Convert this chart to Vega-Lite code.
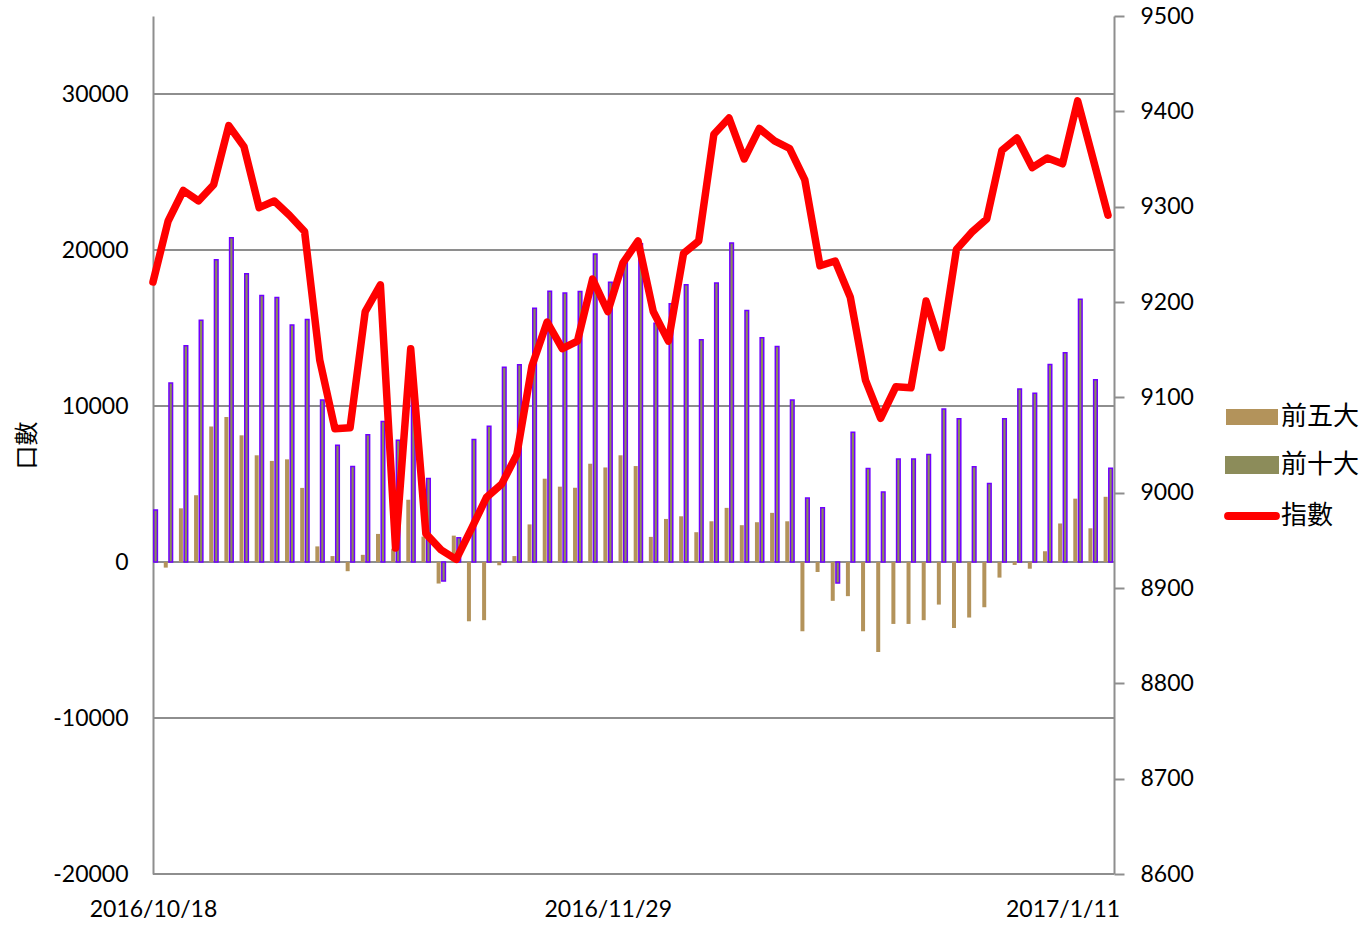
{
  "$schema": "https://vega.github.io/schema/vega-lite/v6.json",
  "width": 961,
  "height": 858,
  "autosize": {"type": "none"},
  "padding": {"left": 153, "top": 16, "right": 253, "bottom": 51},
  "background": "white",
  "config": {
    "view": {"stroke": null},
    "axis": {
      "domainColor": "#8E8E8E",
      "domainWidth": 2,
      "labelFont": "Lato",
      "labelFontSize": 23,
      "labelColor": "#000000",
      "labelOverlap": false
    }
  },
  "datasets": {
    "grid": [
      {"level": -20000},
      {"level": -10000},
      {"level": 0},
      {"level": 10000},
      {"level": 20000},
      {"level": 30000}
    ]
  },
  "data": {
    "values": [
      {"date": "2016/10/18", "top5": 2000, "top10": 3330, "index": 9221},
      {"date": "2016/10/19", "top5": -360, "top10": 11470, "index": 9285},
      {"date": "2016/10/20", "top5": 3440, "top10": 13870, "index": 9317},
      {"date": "2016/10/21", "top5": 4280, "top10": 15490, "index": 9306},
      {"date": "2016/10/24", "top5": 8690, "top10": 19380, "index": 9323},
      {"date": "2016/10/25", "top5": 9290, "top10": 20780, "index": 9385},
      {"date": "2016/10/26", "top5": 8120, "top10": 18480, "index": 9363},
      {"date": "2016/10/27", "top5": 6840, "top10": 17080, "index": 9299},
      {"date": "2016/10/28", "top5": 6480, "top10": 16960, "index": 9306},
      {"date": "2016/10/31", "top5": 6580, "top10": 15200, "index": 9291},
      {"date": "2016/11/1", "top5": 4750, "top10": 15540, "index": 9274},
      {"date": "2016/11/2", "top5": 1000, "top10": 10380, "index": 9139},
      {"date": "2016/11/3", "top5": 380, "top10": 7480, "index": 9067},
      {"date": "2016/11/4", "top5": -590, "top10": 6120, "index": 9068},
      {"date": "2016/11/7", "top5": 460, "top10": 8150, "index": 9190},
      {"date": "2016/11/8", "top5": 1800, "top10": 9000, "index": 9218},
      {"date": "2016/11/9", "top5": 850, "top10": 7800, "index": 8942},
      {"date": "2016/11/10", "top5": 3990, "top10": 11000, "index": 9151},
      {"date": "2016/11/11", "top5": 1630, "top10": 5360, "index": 8957},
      {"date": "2016/11/14", "top5": -1380, "top10": -1220, "index": 8940},
      {"date": "2016/11/15", "top5": 1690, "top10": 1560, "index": 8930},
      {"date": "2016/11/16", "top5": -3800, "top10": 7850, "index": 8962},
      {"date": "2016/11/17", "top5": -3730, "top10": 8700, "index": 8995},
      {"date": "2016/11/18", "top5": -210, "top10": 12480, "index": 9009},
      {"date": "2016/11/21", "top5": 380, "top10": 12640, "index": 9040},
      {"date": "2016/11/22", "top5": 2410, "top10": 16260, "index": 9133},
      {"date": "2016/11/23", "top5": 5340, "top10": 17350, "index": 9179},
      {"date": "2016/11/24", "top5": 4830, "top10": 17240, "index": 9151},
      {"date": "2016/11/25", "top5": 4760, "top10": 17340, "index": 9159},
      {"date": "2016/11/28", "top5": 6300, "top10": 19740, "index": 9224},
      {"date": "2016/11/29", "top5": 6060, "top10": 17930, "index": 9190},
      {"date": "2016/11/30", "top5": 6840, "top10": 19180, "index": 9241},
      {"date": "2016/12/1", "top5": 6150, "top10": 20400, "index": 9264},
      {"date": "2016/12/2", "top5": 1610, "top10": 15310, "index": 9190},
      {"date": "2016/12/5", "top5": 2760, "top10": 16550, "index": 9159},
      {"date": "2016/12/6", "top5": 2930, "top10": 17770, "index": 9251},
      {"date": "2016/12/7", "top5": 1910, "top10": 14240, "index": 9264},
      {"date": "2016/12/8", "top5": 2610, "top10": 17880, "index": 9376},
      {"date": "2016/12/9", "top5": 3470, "top10": 20450, "index": 9393},
      {"date": "2016/12/12", "top5": 2360, "top10": 16120, "index": 9350},
      {"date": "2016/12/13", "top5": 2550, "top10": 14370, "index": 9382},
      {"date": "2016/12/14", "top5": 3150, "top10": 13810, "index": 9369},
      {"date": "2016/12/15", "top5": 2610, "top10": 10390, "index": 9361},
      {"date": "2016/12/16", "top5": -4440, "top10": 4100, "index": 9328},
      {"date": "2016/12/19", "top5": -640, "top10": 3480, "index": 9238},
      {"date": "2016/12/20", "top5": -2490, "top10": -1350, "index": 9243},
      {"date": "2016/12/21", "top5": -2190, "top10": 8310, "index": 9205},
      {"date": "2016/12/22", "top5": -4440, "top10": 5990, "index": 9118},
      {"date": "2016/12/23", "top5": -5770, "top10": 4490, "index": 9078},
      {"date": "2016/12/26", "top5": -3970, "top10": 6600, "index": 9111},
      {"date": "2016/12/27", "top5": -3970, "top10": 6600, "index": 9110},
      {"date": "2016/12/28", "top5": -3730, "top10": 6890, "index": 9201},
      {"date": "2016/12/29", "top5": -2730, "top10": 9800, "index": 9152},
      {"date": "2016/12/30", "top5": -4230, "top10": 9190, "index": 9255},
      {"date": "2017/1/3", "top5": -3560, "top10": 6100, "index": 9273},
      {"date": "2017/1/4", "top5": -2900, "top10": 5040, "index": 9287},
      {"date": "2017/1/5", "top5": -1000, "top10": 9190, "index": 9359},
      {"date": "2017/1/6", "top5": -190, "top10": 11090, "index": 9372},
      {"date": "2017/1/9", "top5": -430, "top10": 10810, "index": 9341},
      {"date": "2017/1/10", "top5": 690, "top10": 12660, "index": 9351},
      {"date": "2017/1/11", "top5": 2470, "top10": 13420, "index": 9345},
      {"date": "2017/1/12", "top5": 4060, "top10": 16840, "index": 9411},
      {"date": "2017/1/13", "top5": 2160, "top10": 11690, "index": 9351},
      {"date": "2017/1/16", "top5": 4180, "top10": 6010, "index": 9291}
    ]
  },
  "layer": [
    {
      "layer": [
        {
          "data": {"name": "grid"},
          "mark": {"type": "rule", "color": "#8E8E8E", "strokeWidth": 2},
          "encoding": {
            "y": {
              "field": "level",
              "type": "quantitative",
              "scale": {"domain": [-20000, 35000], "nice": false, "zero": false},
              "axis": {
                "values": [-20000, -10000, 0, 10000, 20000, 30000],
                "labelExpr": "'' + datum.value",
                "ticks": false,
                "grid": false,
                "labelPadding": 25,
                "title": "口數",
                "titleFont": "Noto Sans CJK TC",
                "titleFontSize": 24,
                "titleFontWeight": "normal",
                "titleColor": "#000000",
                "titleAngle": 270,
                "titleX": -126,
                "titleY": 429,
                "titleAlign": "center",
                "titleBaseline": "middle"
              }
            }
          }
        },
        {
          "mark": {"type": "bar", "width": 4, "xOffset": -2.4, "clip": true},
          "encoding": {
            "x": {
              "field": "date",
              "type": "ordinal",
              "sort": null,
              "scale": {"type": "point", "padding": 0, "range": [0, 955]},
              "axis": {
                "values": ["2016/10/18", "2016/11/29", "2017/1/11"],
                "ticks": false,
                "domain": false,
                "grid": false,
                "labelAngle": 0,
                "labelPadding": 24,
                "title": null
              }
            },
            "y": {"field": "top5", "type": "quantitative", "axis": {"title": "口數"}},
            "color": {
              "datum": "前五大",
              "type": "nominal",
              "scale": {
                "domain": ["前五大", "前十大", "指數"],
                "range": ["#B3935B", "#8C8C5A", "#FF0000"]
              },
              "legend": {
                "title": null,
                "orient": "none",
                "legendX": 1086,
                "legendY": 388,
                "padding": 0,
                "symbolSize": 2704,
                "labelFont": "Noto Sans CJK TC",
                "labelFontSize": 26,
                "labelColor": "#000000",
                "labelOffset": 16,
                "rowPadding": 22,
                "encode": {
                  "symbols": {
                    "update": {
                      "shape": {"signal": "datum.value === '指數' ? 'M-0.92,0L0.92,0' : 'M-1,-0.31L1,-0.31L1,0.31L-1,0.31Z'"},
                      "fill": {"signal": "datum.value === '前五大' ? '#B3935B' : datum.value === '前十大' ? '#8C8C5A' : 'transparent'"},
                      "stroke": {"signal": "datum.value === '前十大' ? '#7000FF' : datum.value === '指數' ? '#FF0000' : 'transparent'"},
                      "strokeWidth": {"signal": "datum.value === '指數' ? 8 : datum.value === '前十大' ? 2 : 0"},
                      "strokeCap": {"value": "round"},
                      "opacity": {"value": 1}
                    }
                  }
                }
              }
            }
          }
        },
        {
          "mark": {"type": "bar", "width": 3.6, "xOffset": 2.6, "stroke": "#7000FF", "strokeWidth": 1.5, "clip": true},
          "encoding": {
            "x": {"field": "date", "type": "ordinal", "sort": null},
            "y": {"field": "top10", "type": "quantitative", "axis": {"title": "口數"}},
            "color": {"datum": "前十大", "type": "nominal"}
          }
        }
      ]
    },
    {
      "mark": {"type": "line", "strokeWidth": 7.5, "strokeCap": "round", "strokeJoin": "round"},
      "encoding": {
        "x": {"field": "date", "type": "ordinal", "sort": null},
        "y": {
          "field": "index",
          "type": "quantitative",
          "scale": {"domain": [8600, 9500], "nice": false, "zero": false},
          "axis": {
            "orient": "right",
            "values": [8600, 8700, 8800, 8900, 9000, 9100, 9200, 9300, 9400, 9500],
            "labelExpr": "'' + datum.value",
            "grid": false,
            "ticks": true,
            "tickSize": 10,
            "tickColor": "#8E8E8E",
            "tickWidth": 2,
            "labelPadding": 16,
            "title": null
          }
        },
        "color": {"datum": "指數", "type": "nominal"}
      }
    }
  ],
  "resolve": {"scale": {"y": "independent"}}
}
